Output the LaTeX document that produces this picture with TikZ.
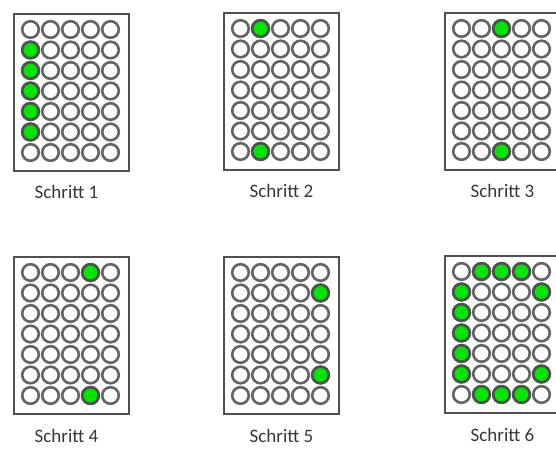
\documentclass[tikz,border=0pt]{standalone}
\usepackage{fontspec}
\setmainfont{Carlito}
\usetikzlibrary{positioning,calc}
\definecolor{ledgray}{RGB}{100,100,100}
\definecolor{ledgreen}{RGB}{0,230,0}
\definecolor{framegray}{RGB}{80,80,80}
\definecolor{capgray}{RGB}{55,55,55}
\tikzset{
  panel/.style={draw=framegray, line width=2pt, fill=white,
                minimum width=115pt, minimum height=157pt, inner sep=0pt},
  led/.style={circle, draw=ledgray, line width=2.6pt, fill=white,
              minimum size=16.6pt, inner sep=0pt},
  ledon/.style={led, draw=ledgray!80!black, fill=ledgreen},
  stepcap/.style={font=\fontsize{19}{21}\selectfont, text=capgray},
}
% #1 name, #2 x, #3 y (top left), #4 list of lit leds row/col
\newcommand{\ledpanel}[4]{%
  \node[panel, anchor=north west] (#1) at (#2,#3) {};
  \foreach \r in {1,...,7}
    \foreach \c in {1,...,5}
      \node[led] (#1-\r-\c) at ($(#1.north west)+(17.5+20*\c-20,-16.5-20.5*\r+20.5)$) {};
  \foreach \r/\c in {#4}
    \node[ledon] (#1-on-\r-\c) at (#1-\r-\c) {};
}

\begin{document}
\begin{tikzpicture}[x=1pt, y=1pt]
  \useasboundingbox (0,0) rectangle (556,-448);

  \ledpanel{s1}{13}{-13}{2/1,3/1,4/1,5/1,6/1}
  \ledpanel{s2}{223}{-12}{1/2,7/2}
  \ledpanel{s3}{444}{-12}{1/3,7/3}
  \ledpanel{s4}{13}{-256}{1/4,7/4}
  \ledpanel{s5}{223}{-256}{2/5,6/5}
  \ledpanel{s6}{444}{-255}{1/2,1/3,1/4,2/1,3/1,4/1,5/1,6/1,2/5,6/5,7/2,7/3,7/4}

  \node[stepcap, below=10pt of s1, xshift=-5pt] (c1) {Schritt 1};
  \node[stepcap, below=10pt of s2] (c2) {Schritt 2};
  \node[stepcap, below=10pt of s3] (c3) {Schritt 3};
  \node[stepcap, below=11pt of s4, xshift=-5pt] (c4) {Schritt 4};
  \node[stepcap, below=11pt of s5] (c5) {Schritt 5};
  \node[stepcap, below=11pt of s6] (c6) {Schritt 6};
\end{tikzpicture}
\end{document}
